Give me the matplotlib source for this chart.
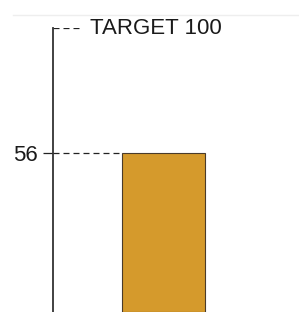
import matplotlib
matplotlib.use("Agg")
import matplotlib.pyplot as plt
from matplotlib.lines import Line2D

plt.rcParams['font.family'] = ['Liberation Sans', 'DejaVu Sans']

categories = ["Actual"]
values = [56]
target = 100
bar_width = 0.6

fig = plt.figure(figsize=(2.99, 3.12), dpi=100)
ax = fig.add_axes([53 / 299, 0, 246 / 299, (312 - 28) / 312])

ax.bar(range(len(categories)), values, width=bar_width, color="#d59a2c",
       edgecolor="#4a3b2a", linewidth=0.8, zorder=3)

ax.set_xlim(-0.80, 0.98)
ax.set_ylim(0, target)

# dashed reference lines
dash = (0, (4.8, 3.2))
ax.hlines(values[0], -0.80, -bar_width / 2, colors="#222222", linestyles=[dash], linewidth=0.9)
ax.hlines(target, -0.80, -0.605, colors="#222222", linestyles=[dash], linewidth=0.9)
ax.text(-0.53, target, f"TARGET {target}", fontsize=16, va="center", ha="left", color="#1a1a1a")

ax.set_yticks(values)
ax.set_yticklabels([str(v) for v in values], fontsize=16, color="#1a1a1a")
ax.tick_params(axis="y", length=7.5, width=0.9, color="#222222", pad=3.5)
ax.set_xticks([])

for s in ["top", "right", "bottom"]:
    ax.spines[s].set_visible(False)
ax.spines["left"].set_color("#333333")
ax.spines["left"].set_linewidth(1.3)

# faint top border
fig.add_artist(Line2D([13 / 299, 1], [1 - 15 / 312, 1 - 15 / 312], color="#eeeeee", linewidth=1))

fig.savefig("out.png", dpi=100)
